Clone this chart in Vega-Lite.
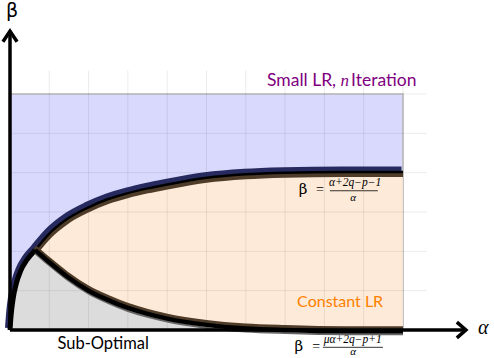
{
 "$schema": "https://vega.github.io/schema/vega-lite/v6.json",
 "width": 393, "height": 236,
 "autosize": {"type": "none"},
 "padding": {"left": 10, "top": 94, "right": 91, "bottom": 28},
 "background": "white",
 "config": {"view": {"stroke": null}},
 "datasets": {
  "upper": [
   {"x": 0, "y": 0}, {"x": 0.03, "y": 0.4}, {"x": 0.08, "y": 0.8}, {"x": 0.16, "y": 1.18}, {"x": 0.27, "y": 1.5}, {"x": 0.43, "y": 1.78},
   {"x": 0.64, "y": 2.03}, {"x": 1.0, "y": 2.45}, {"x": 1.45, "y": 2.82}, {"x": 2.0, "y": 3.12}, {"x": 2.5, "y": 3.33},
   {"x": 3.0, "y": 3.48}, {"x": 3.5, "y": 3.6}, {"x": 4.0, "y": 3.7}, {"x": 5.0, "y": 3.87}, {"x": 6.0, "y": 3.96},
   {"x": 7.0, "y": 4.0}, {"x": 8.5, "y": 4.02}, {"x": 10, "y": 4.02}
  ],
  "lower": [
   {"x": 0.64, "y": 2.03}, {"x": 1.0, "y": 1.72}, {"x": 1.45, "y": 1.36}, {"x": 2.0, "y": 1.0}, {"x": 2.5, "y": 0.76},
   {"x": 3.0, "y": 0.56}, {"x": 3.5, "y": 0.41}, {"x": 4.0, "y": 0.29}, {"x": 5.0, "y": 0.13}, {"x": 6.0, "y": 0.04},
   {"x": 7.0, "y": 0.0}, {"x": 8.5, "y": -0.03}, {"x": 10, "y": -0.03}
  ],
  "gray": [
   {"x": 0, "y": 0}, {"x": 0.03, "y": 0.4}, {"x": 0.08, "y": 0.8}, {"x": 0.16, "y": 1.18}, {"x": 0.27, "y": 1.5}, {"x": 0.43, "y": 1.78},
   {"x": 0.64, "y": 2.03}, {"x": 1.0, "y": 1.72}, {"x": 1.45, "y": 1.36}, {"x": 2.0, "y": 1.0}, {"x": 2.5, "y": 0.76},
   {"x": 3.0, "y": 0.56}, {"x": 3.5, "y": 0.41}, {"x": 4.0, "y": 0.29}, {"x": 5.0, "y": 0.13}, {"x": 6.0, "y": 0.04},
   {"x": 7.0, "y": 0.0}, {"x": 8.5, "y": 0}, {"x": 10, "y": 0}
  ],
  "grid": [
   {"x": 1, "y": 0, "x2": 1, "y2": 6.6}, {"x": 2, "y": 0, "x2": 2, "y2": 6.6}, {"x": 3, "y": 0, "x2": 3, "y2": 6.6},
   {"x": 4, "y": 0, "x2": 4, "y2": 6.6}, {"x": 5, "y": 0, "x2": 5, "y2": 6.6}, {"x": 6, "y": 0, "x2": 6, "y2": 6.6},
   {"x": 7, "y": 0, "x2": 7, "y2": 6.6}, {"x": 8, "y": 0, "x2": 8, "y2": 6.6}, {"x": 9, "y": 0, "x2": 9, "y2": 6.6},
   {"x": 10, "y": 0, "x2": 10, "y2": 6.6},
   {"x": 0, "y": 1, "x2": 10.6, "y2": 1}, {"x": 0, "y": 2, "x2": 10.6, "y2": 2}, {"x": 0, "y": 3, "x2": 10.6, "y2": 3},
   {"x": 0, "y": 4, "x2": 10.6, "y2": 4}, {"x": 0, "y": 5, "x2": 10.6, "y2": 5}, {"x": 0, "y": 6, "x2": 10.6, "y2": 6}
  ],
  "axes": [
   {"id": "ya", "o": 1, "x": 0, "y": 0}, {"id": "ya", "o": 2, "x": 0, "y": 7.55},
   {"id": "yh", "o": 1, "x": -0.18, "y": 7.33}, {"id": "yh", "o": 2, "x": 0, "y": 7.6}, {"id": "yh", "o": 3, "x": 0.18, "y": 7.33},
   {"id": "xa", "o": 1, "x": 0, "y": 0}, {"id": "xa", "o": 2, "x": 11.55, "y": 0},
   {"id": "xh", "o": 1, "x": 11.37, "y": 0.2}, {"id": "xh", "o": 2, "x": 11.6, "y": 0}, {"id": "xh", "o": 3, "x": 11.37, "y": -0.2}
  ]
 },
 "encoding": {
  "x": {"field": "x", "type": "quantitative", "scale": {"domain": [0, 10], "nice": false, "zero": false}, "axis": null},
  "y": {"field": "y", "type": "quantitative", "scale": {"domain": [0, 6], "nice": false, "zero": false}, "axis": null}
 },
 "layer": [
  {"data": {"values": [{"x": 0, "y": 0, "x2": 10, "y2": 6}]},
   "mark": {"type": "rect", "fill": "#d9d9fe", "stroke": "#bdbdbd", "strokeWidth": 1.5},
   "encoding": {"x2": {"field": "x2"}, "y2": {"field": "y2"}}},
  {"data": {"name": "upper"}, "mark": {"type": "area", "color": "#feead8", "interpolate": "monotone"}},
  {"data": {"name": "gray"}, "mark": {"type": "area", "color": "#dcdcdc", "interpolate": "monotone"}},
  {"data": {"name": "grid"}, "mark": {"type": "rule", "stroke": "#000000", "strokeOpacity": 0.08, "strokeWidth": 1},
   "encoding": {"x2": {"field": "x2"}, "y2": {"field": "y2"}}},
  {"data": {"name": "upper"}, "mark": {"type": "line", "stroke": "#272a5e", "strokeWidth": 7, "interpolate": "monotone", "yOffset": -2, "xOffset": -1.5}},
  {"data": {"name": "upper"}, "transform": [{"filter": "datum.x >= 0.64"}],
   "mark": {"type": "line", "stroke": "#4e3c28", "strokeWidth": 5, "interpolate": "monotone", "yOffset": 2.5}},
  {"data": {"name": "upper"}, "mark": {"type": "line", "stroke": "#000000", "strokeWidth": 2.5, "interpolate": "monotone"}},
  {"data": {"name": "upper"}, "transform": [{"filter": "datum.x <= 0.64"}],
   "mark": {"type": "line", "stroke": "#000000", "strokeWidth": 5, "interpolate": "monotone"}},
  {"data": {"name": "lower"}, "mark": {"type": "line", "stroke": "#4e3c28", "strokeWidth": 4, "interpolate": "monotone", "yOffset": -3}},
  {"data": {"name": "lower"}, "mark": {"type": "line", "stroke": "#666666", "strokeWidth": 2, "interpolate": "monotone", "yOffset": 3}},
  {"data": {"name": "lower"}, "mark": {"type": "line", "stroke": "#000000", "strokeWidth": 4.5, "interpolate": "monotone"}},
  {"data": {"name": "axes"}, "mark": {"type": "line", "stroke": "#000000", "strokeWidth": 3.5, "strokeJoin": "miter"},
   "encoding": {"detail": {"field": "id"}, "order": {"field": "o"}}},
  {"data": {"values": [{"x": 6.54, "y": 6.21, "t": "Small LR,"}, {"x": 8.68, "y": 6.21, "t": "Iteration"}]},
   "mark": {"type": "text", "align": "left", "baseline": "alphabetic", "font": "Lato", "fontSize": 17.5, "color": "#800080"},
   "encoding": {"text": {"field": "t"}}},
  {"data": {"values": [{"x": 8.41, "y": 6.21, "t": "n"}]},
   "mark": {"type": "text", "align": "left", "baseline": "alphabetic", "font": "Liberation Serif", "fontStyle": "italic", "fontSize": 17, "color": "#800080"},
   "encoding": {"text": {"field": "t"}}},
  {"data": {"values": [{"x": 8.4, "y": 0.585, "t": "Constant LR"}]},
   "mark": {"type": "text", "align": "center", "baseline": "alphabetic", "font": "Lato", "fontSize": 16, "color": "#ff8000"},
   "encoding": {"text": {"field": "t"}}},
  {"data": {"values": [{"x": 2.37, "y": -0.48, "t": "Sub-Optimal"}]},
   "mark": {"type": "text", "align": "center", "baseline": "alphabetic", "font": "Lato", "fontSize": 16.5, "color": "#000000"},
   "encoding": {"text": {"field": "t"}}},
  {"data": {"values": [{"x": 0.05, "y": 7.97, "t": "β"}]},
   "mark": {"type": "text", "align": "center", "baseline": "alphabetic", "font": "DejaVu Sans", "fontSize": 19, "color": "#000000"},
   "encoding": {"text": {"field": "t"}}},
  {"data": {"values": [{"x": 12.04, "y": -0.1, "t": "α"}]},
   "mark": {"type": "text", "align": "center", "baseline": "alphabetic", "font": "Liberation Serif", "fontStyle": "italic", "fontSize": 20, "color": "#000000"},
   "encoding": {"text": {"field": "t"}}},
  {"data": {"values": [{"x": 7.46, "y": 3.47, "t": "β"}, {"x": 7.35, "y": -0.53, "t": "β"}]},
   "mark": {"type": "text", "align": "center", "baseline": "alphabetic", "font": "DejaVu Serif", "fontSize": 15, "color": "#000000"},
   "encoding": {"text": {"field": "t"}}},
  {"data": {"values": [{"x": 7.89, "y": 3.56, "t": "="}, {"x": 7.79, "y": -0.42, "t": "="}]},
   "mark": {"type": "text", "align": "center", "baseline": "middle", "font": "Liberation Serif", "fontSize": 14, "color": "#000000"},
   "encoding": {"text": {"field": "t"}}},
  {"data": {"values": [{"x": 8.78, "y": 3.65, "t": "α+2q−p−1"}, {"x": 8.72, "y": -0.34, "t": "μα+2q−p+1"}]},
   "mark": {"type": "text", "align": "center", "baseline": "alphabetic", "font": "Liberation Serif", "fontStyle": "italic", "fontSize": 11.5, "color": "#000000"},
   "encoding": {"text": {"field": "t"}}},
  {"data": {"values": [{"x": 8.73, "y": 3.29, "t": "α"}, {"x": 8.73, "y": -0.63, "t": "α"}]},
   "mark": {"type": "text", "align": "center", "baseline": "alphabetic", "font": "Liberation Serif", "fontStyle": "italic", "fontSize": 11, "color": "#000000"},
   "encoding": {"text": {"field": "t"}}},
  {"data": {"values": [{"x": 8.14, "y": 3.54, "x2": 9.36}, {"x": 7.96, "y": -0.44, "x2": 9.49}]},
   "mark": {"type": "rule", "stroke": "#000000", "strokeWidth": 0.8},
   "encoding": {"x2": {"field": "x2"}}}
 ]
}
